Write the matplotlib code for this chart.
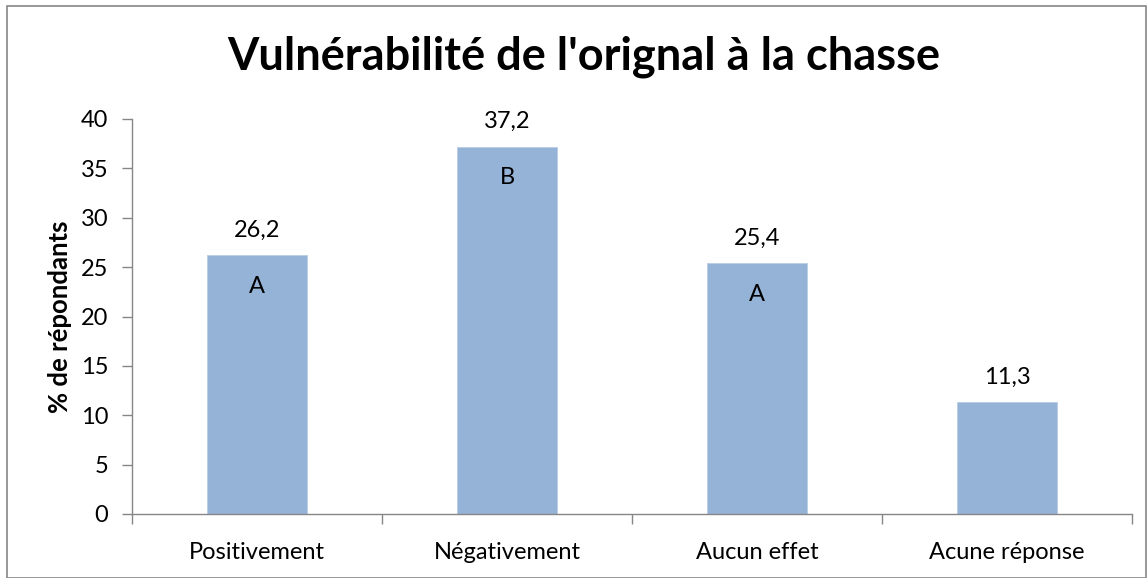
import matplotlib
matplotlib.use("Agg")
import matplotlib.pyplot as plt
from matplotlib.patches import Rectangle

categories = ["Positivement", "Négativement", "Aucun effet", "Acune réponse"]
values = [26.2, 37.2, 25.4, 11.3]
value_labels = ["26,2", "37,2", "25,4", "11,3"]
letters = ["A", "B", "A", ""]
yticks = [0, 5, 10, 15, 20, 25, 30, 35, 40]

W, H = 1147, 578
fig = plt.figure(figsize=(W / 100, H / 100), dpi=100)
plt.rcParams['font.family'] = ['Lato', 'DejaVu Sans']

# outer border
fig.patches.append(Rectangle((7 / W, 0), (W - 8) / W, (H - 6) / H, transform=fig.transFigure,
                             fill=False, edgecolor='#868686', linewidth=1.2))

FS = 17
ax = fig.add_axes([132 / W, (H - 514) / H, 1000 / W, 395 / H])
x = list(range(len(categories)))
ax.bar(x, values, width=0.4, color='#95B3D7', edgecolor='#B9CDE5', linewidth=0.6, zorder=2)
ax.set_xlim(-0.5, 3.5)
ax.set_ylim(0, 40)
ax.set_yticks(yticks)
ax.set_yticklabels([str(t) for t in yticks], fontsize=FS)
ax.set_xticks(x)
ax.set_xticklabels(categories, fontsize=FS)
ax.set_xticks([-0.5, 0.5, 1.5, 2.5, 3.5], minor=True)
ax.tick_params(axis='x', which='major', length=0, pad=20)
ax.tick_params(axis='x', which='minor', length=7, color='#868686', width=1)
ax.tick_params(axis='y', length=7, color='#868686', width=1, pad=10)
for s in ['top', 'right']:
    ax.spines[s].set_visible(False)
for s in ['left', 'bottom']:
    ax.spines[s].set_color('#868686')
    ax.spines[s].set_linewidth(1)

for xi, v, lab, let in zip(x, values, value_labels, letters):
    ax.annotate(lab, (xi, v), xytext=(0, 25), textcoords='offset pixels',
                ha='center', va='center', fontsize=FS)
    if let:
        ax.annotate(let, (xi, v), xytext=(0, -31), textcoords='offset pixels',
                    ha='center', va='center', fontsize=FS)

ax.set_ylabel("% de répondants", fontsize=18.5, fontweight='bold', labelpad=6)
fig.text(584 / W, 1 - 57 / H, "Vulnérabilité de l'orignal à la chasse", ha='center', va='center',
         fontsize=32.5, fontweight='bold')

fig.savefig("out.png", dpi=100)
